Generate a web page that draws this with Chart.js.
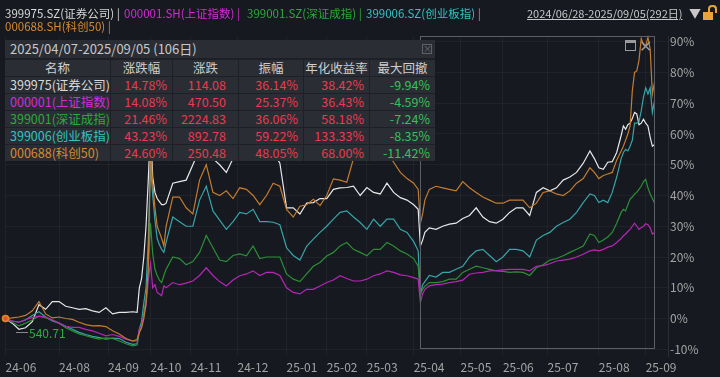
<!DOCTYPE html>
<html>
<head>
<meta charset="utf-8">
<script src="https://cdn.jsdelivr.net/npm/chart.js@4.4.1/dist/chart.umd.min.js"></script>
<style>
body { margin: 0; background: #161920; }
#wrap { position: relative; width: 720px; height: 377px; overflow: hidden; background: #161920; font-family: "Noto Sans CJK SC", "Noto Sans", sans-serif; }
#c { position: absolute; left: 0; top: 0; }
.abs { position: absolute; white-space: nowrap; }
.lg { font-size: 11.5px; line-height: 14px; }
</style>
</head>
<body>
<div id="wrap">
    <canvas id="c" width="720" height="377"></canvas>

    <!-- legend header -->
    <div class="abs lg" style="left:5px;top:6px;color:#d9d9d9">399975.SZ(证券公司) |</div>
    <div class="abs lg" style="left:124px;top:6px;color:#d62bd6">000001.SH(上证指数) |</div>
    <div class="abs lg" style="left:247px;top:6px;color:#2fa83b">399001.SZ(深证成指) |</div>
    <div class="abs lg" style="left:366px;top:6px;color:#33c3c3">399006.SZ(创业板指) |</div>
    <div class="abs lg" style="left:5px;top:19px;color:#d88a2e">000688.SH(科创50) |</div>
    <div class="abs" style="left:527px;top:5px;font-size:11px;line-height:16px;color:#c8c8c8;text-decoration:underline">2024/06/28-2025/09/05(292日)</div>
    <div class="abs" style="left:689px;top:5px;font-size:12px;line-height:16px;color:#c8c8c8">▼</div>
    <div class="abs" style="left:708px;top:5px;width:5px;height:6px;border:2px solid #e8a33a;border-bottom:none;border-radius:4px 4px 0 0"></div>
    <div class="abs" style="left:703px;top:12px;width:10px;height:8px;background:#e8a33a"></div>

    <!-- selection box -->
    <div class="abs" style="left:420px;top:36px;width:235px;height:313px;border:1px solid #5c5f66;box-sizing:border-box"></div>
    <div class="abs" style="left:625px;top:40px;width:11px;height:11px;border:1px solid #9a9a9a;box-sizing:border-box;border-top-width:3px"></div>
    <div class="abs" style="left:639px;top:36px;font-size:16px;line-height:18px;color:#9a9a9a">✕</div>

    <!-- min marker -->
    <div class="abs" style="left:16px;top:332px;width:12px;height:1px;background:#8a8a8a"></div>
    <div class="abs" style="left:29px;top:325px;font-size:12px;line-height:16px;color:#2fae3f">540.71</div>

    <div id="tbl" class="abs" style="left:5px;top:40px;width:430px;height:121px;background:#1d2026"></div>
</div>

<script>
// trading-day index (0 = 2024/06/28, 291 = 2025/09/05)
const dayIdx = [
    0, 3, 6, 9, 12, 15, 18, 21, 24, 27, 30, 33, 36, 39, 42, 45, 48, 51, 54, 57, 59,
    60, 61, 62, 63, 64, 65, 66, 67, 68, 69, 70, 71, 72,
    75, 78, 81, 84, 87, 90, 93, 96, 99, 102, 105, 108, 111, 114, 117, 120, 123, 126, 129, 132, 135, 138, 141, 144, 147, 150, 153, 156, 159, 162, 165, 168, 171, 174, 177, 180, 183,
    185, 186, 187, 188,
    190, 193, 196, 199, 202, 205, 208, 211, 214, 217, 220, 223, 226, 229, 232, 235, 238, 241, 244, 247, 250, 253, 256, 259,
    262, 264, 266, 268, 270, 272, 274,
    276, 277, 278, 279, 280, 281, 282, 283, 284, 285, 286, 287, 288, 289, 290, 291
];

// cumulative change in %
const sec399975 = [
    0, -1.5, -3.5, -3, -1, 4.5, 3, 5.5, 5.5, 4, 3.5, 3, 3.2, 2.5, 2, 3.5, 1.5, 2, 2, 2.2, 2,
    10, 13, 20, 30, 45, 62, 46, 41, 39, 38, 37, 37, 37.5,
    44, 44.5, 45, 50, 55, 54, 52, 50, 47.5, 52, 55, 56, 54, 56, 52, 54, 50.5, 36, 36, 34, 37.5, 37.7, 39, 39, 42, 42.5, 42.6, 43, 40, 42.6, 41, 40.5, 44, 41, 39.3, 38.5, 37,
    35.5, 23.6, 25.5, 28,
    29.5, 29, 30, 30.7, 31, 32.5, 33.5, 36, 33, 31.5, 31, 32.3, 34.5, 36, 36, 33.5, 41, 42.5, 41.5, 42.5, 45, 46, 47.5, 50.5,
    54.5, 52, 49, 48.5, 50.8, 51, 54,
    59.5, 62.6, 61.5, 63, 63.5, 65, 67, 66.5, 63, 63.5, 64.8, 63.5, 62.6, 59, 56, 56.6
];
const sh000001 = [
    0, -0.8, -1.2, -0.3, 0.3, 0.8, 0.5, -0.5, -1.5, -2.5, -2.9, -2.9, -3.5, -4, -4.8, -5.6, -5.2, -5.8, -6.7, -7.3, -7.3,
    -3.5, -2.4, 1.1, 4.1, 12.4, 18, 10, 11, 8.5, 8, 7.4, 10.6, 10,
    11.7, 11, 11.5, 12.2, 14, 16.5, 14, 12, 10.6, 12.5, 13.9, 14.5, 15.5, 14, 15, 15, 14, 10, 8.5, 8, 9.5, 9.5, 10.6, 11.7, 12.5, 13.9, 13, 12.2, 12.2, 12.8, 13.9, 14.5, 15.5, 15, 14.2, 13.9, 13.3,
    12.8, 5.2, 8, 9.5,
    10.6, 11, 11.2, 11.7, 12, 12.5, 14.4, 14.8, 15, 15.5, 15.6, 15.8, 16, 16, 16, 15.5, 17, 17.2, 17.8, 18.7, 19, 19.3, 20, 20.9,
    22, 22.3, 22, 22.5, 23.2, 23.6, 24.7,
    26, 26.9, 27.5, 28.3, 29, 30, 31, 30, 29, 29.5, 30, 30.8, 30.5, 29.5, 27.5, 28
];
const sz399001 = [
    0, -1.2, -2.4, -1.5, -0.5, 0.8, 0.3, -0.5, -1.5, -3, -4, -5, -5.6, -6.2, -6.7, -6.3, -6.5, -7.3, -8.2, -8.9, -8.6,
    -4.5, -2.5, 2, 6, 16, 31, 21, 16, 14, 12.5, 11.7, 14, 16,
    20, 19.5, 17.5, 18.5, 21.5, 27, 23, 19, 18.5, 20.5, 21, 20.4, 23.6, 19.5, 20, 20, 20, 14.5, 12.8, 12, 14.5, 17, 18.2, 20.3, 21.5, 23.6, 24.7, 22.5, 21.5, 20.4, 22.5, 22.5, 24.7, 23.6, 22, 21, 19.5,
    17, 8, 9.5, 10.5,
    11.7, 11.7, 12, 12.8, 12.8, 15, 16, 17, 16.5, 16, 15.5, 15.3, 15, 15.2, 15, 14, 16.5, 17.5, 19, 19.5, 20.4, 21.5, 22.5, 23.6,
    27.5, 27, 24.7, 25.5, 26.5, 28, 31,
    34.5, 35.5, 35, 37, 38.8, 39.5, 40.5, 41, 42, 43, 44.5, 45.2, 42.5, 40.5, 39, 37.5
];
const cyb399006 = [
    0, -0.8, -1.2, -0.5, 1, 2.2, 0.5, -0.8, -1.5, -2.5, -3.5, -4.5, -5.2, -5.8, -6.2, -6.7, -6.4, -6.5, -7.7, -8.4, -8.2,
    -3.5, -1, 5, 10, 25, 50, 40, 32, 26, 24, 22.5, 21.5, 24.8,
    33, 31.5, 30, 30, 38.5, 43, 35, 32, 29, 31.5, 34.5, 34, 35.5, 31.5, 31.5, 31.3, 30.5, 23, 20.5, 19, 23.5, 25.8, 28, 30, 32.3, 34.5, 35, 33, 31.2, 29, 32.3, 30, 32.3, 32.3, 29, 28, 25,
    22, 7.5, 11, 12,
    14, 13.5, 15, 15, 16, 17, 20, 22, 22.5, 20.5, 18.5, 20, 22.5, 22.5, 22, 20, 25.5, 27, 28, 30, 31.2, 32.3, 34.5, 37.7,
    40.5, 40, 37.7, 38.5, 37.7, 41, 46,
    52, 54, 55, 54.5, 56, 58, 63.5, 63.5, 64, 67.5, 72, 75, 73, 75, 67, 71
];
const kc000688 = [
    0, 0.2, 0.5, 1, 2.5, 5.5, 1.5, 0.2, 0.5, 0, -0.3, -1.2, -2, -2.4, -2.3, -2.6, -4, -5, -6.5, -7.3, -6.8,
    -4.5, -3, 0, 5, 16, 55, 44, 36, 30, 28, 26, 23.6, 30,
    39.5, 39.5, 36, 34, 45, 50, 41, 40, 41.5, 39, 42.5, 42, 40, 37, 40, 44, 43, 35.5, 33, 36.5, 37, 38.8, 36.7, 40, 45.4, 45, 44.3, 52, 55, 56, 55, 57, 54, 50.8, 47.5, 45.5, 44,
    42, 31, 34, 38.5,
    42, 43, 42.5, 42, 41.5, 44.5, 42.5, 41, 39.5, 38.5, 37.5, 37.5, 38.5, 38.5, 38.5, 36, 37.5, 41, 41.5, 40.5, 40, 41.5, 44, 45.5,
    49, 47.5, 45.5, 46.5, 47, 47.5, 51.5,
    54.5, 56, 58, 60, 62.6, 74, 80, 80.5, 84, 91, 89, 88.6, 91.4, 87.6, 73, 77
];

const monthIdx = [0, 24, 46, 65, 83, 104, 126, 144, 162, 183, 204, 223, 243, 266, 287];
const monthLabels = ['24-06', '24-08', '24-09', '24-10', '24-11', '24-12', '25-01', '25-02', '25-03', '25-04', '25-05', '25-06', '25-07', '25-08', '25-09'];
const yTicks = [-10, 0, 10, 20, 30, 40, 50, 60, 70, 80, 90];

// range table 2025/04/07-2025/09/05
const tblNames = ['399975(证券公司)', '000001(上证指数)', '399001(深证成指)', '399006(创业板指)', '000688(科创50)'];
const tblNameColors = ['#d9d9d9', '#d62bd6', '#2fa83b', '#33c3c3', '#d88a2e'];
const tblChgPct = ['14.78%', '14.08%', '21.46%', '43.23%', '24.60%'];
const tblChg = ['114.08', '470.50', '2224.83', '892.78', '250.48'];
const tblAmp = ['36.14%', '25.37%', '36.06%', '59.22%', '48.05%'];
const tblAnnual = ['38.42%', '36.43%', '58.18%', '133.33%', '68.00%'];
const tblMaxDD = ['-9.94%', '-4.59%', '-7.24%', '-8.35%', '-11.42%'];
const tblHeads = ['名称', '涨跌幅', '涨跌', '振幅', '年化收益率', '最大回撤'];

function pts(arr) {
    return dayIdx.map((d, i) => ({ x: d, y: arr[i] }));
}

const fontFam = '"Noto Sans CJK SC", "Noto Sans", sans-serif';

const ctx = document.getElementById('c').getContext('2d');
const myChart = new Chart(ctx, {
    type: 'line',
    data: {
        datasets: [
            {
                label: '000688.SH(科创50)',
                data: pts(kc000688),
                borderColor: '#c47c2e',
                borderWidth: 1.2,
                pointRadius: c => c.dataIndex === 0 ? 3 : 0,
                pointBackgroundColor: '#e2552b',
                pointBorderColor: '#e08a2e',
                pointBorderWidth: 1.5,
                clip: false
            },
            { label: '000001.SH(上证指数)', data: pts(sh000001), borderColor: '#b726b7', borderWidth: 1.2, pointRadius: 0 },
            { label: '399001.SZ(深证成指)', data: pts(sz399001), borderColor: '#2b8f36', borderWidth: 1.2, pointRadius: 0 },
            { label: '399006.SZ(创业板指)', data: pts(cyb399006), borderColor: '#36a5a8', borderWidth: 1.2, pointRadius: 0 },
            { label: '399975.SZ(证券公司)', data: pts(sec399975), borderColor: '#e8e8e8', borderWidth: 1.2, pointRadius: 0 }
        ]
    },
    options: {
        responsive: false,
        animation: false,
        layout: { padding: { left: 5, top: 36, right: 0, bottom: 0 } },
        plugins: {
            legend: { display: false },
            tooltip: { enabled: false }
        },
        scales: {
            x: {
                type: 'linear',
                min: 0,
                max: 297,
                afterBuildTicks: axis => { axis.ticks = monthIdx.map(v => ({ value: v })); },
                afterFit: axis => { axis.height = 21; },
                ticks: {
                    callback: v => monthLabels[monthIdx.indexOf(v)],
                    align: 'start',
                    maxRotation: 0,
                    autoSkip: false,
                    padding: 4,
                    color: '#a4a4a4',
                    font: { family: fontFam, size: 12 }
                },
                grid: { color: 'rgba(255,255,255,0.04)', drawTicks: false },
                border: { display: false }
            },
            y: {
                position: 'right',
                min: -12.18,
                max: 91.85,
                afterBuildTicks: axis => { axis.ticks = yTicks.map(v => ({ value: v })); },
                afterFit: axis => { axis.width = 52; },
                ticks: {
                    callback: v => v + '%',
                    padding: 2,
                    color: '#a4a4a4',
                    font: { family: fontFam, size: 12 }
                },
                grid: { color: 'rgba(255,255,255,0.04)', drawTicks: false },
                border: { display: true, color: '#2a2d34' }
            }
        }
    }
});

// build the overlay table
const tbl = document.getElementById('tbl');
const colEdges = [0, 105, 167, 233, 298, 364, 430];
function cell(left, top, w, h, bg) {
    const d = document.createElement('div');
    d.className = 'abs';
    d.style.cssText = 'left:' + left + 'px;top:' + top + 'px;width:' + w + 'px;height:' + h + 'px;background:' + bg + ';font-size:12.5px;line-height:' + h + 'px;box-sizing:border-box;overflow:hidden';
    tbl.appendChild(d);
    return d;
}
const title = cell(0, 0, 430, 18, '#2a2d34');
title.style.fontSize = '13px';
title.style.color = '#c8c8c8';
title.style.paddingLeft = '5px';
title.textContent = '2025/04/07-2025/09/05 (106日)';
const closeBox = document.createElement('div');
closeBox.className = 'abs';
closeBox.style.cssText = 'left:417px;top:4px;width:10px;height:10px;border:1px solid #5e6168;box-sizing:border-box;color:#6e7178;font-size:9px;line-height:8px;text-align:center';
closeBox.textContent = '×';
tbl.appendChild(closeBox);

const rowTop = r => 18.5 + 17 * r;
for (let c = 0; c < 6; c++) {
    const x0 = colEdges[c] + (c > 0 ? 1 : 0);
    const w = colEdges[c + 1] - x0;
    const h = cell(x0, rowTop(0) + 1, w, 16, '#2a2d34');
    h.style.textAlign = 'center';
    h.style.color = '#cfcfcf';
    h.textContent = tblHeads[c];
}
const cols = [tblChgPct, tblChg, tblAmp, tblAnnual, tblMaxDD];
for (let r = 0; r < 5; r++) {
    const top = rowTop(r + 1) + 1;
    const n = cell(0, top, colEdges[1], 16, '#2a2d34');
    n.style.color = tblNameColors[r];
    n.style.paddingLeft = '5px';
    n.textContent = tblNames[r];
    for (let c = 0; c < 5; c++) {
        const x0 = colEdges[c + 1] + 1;
        const w = colEdges[c + 2] - x0;
        const d = cell(x0, top, w, 16, '#2a2d34');
        d.style.textAlign = 'right';
        d.style.paddingRight = (c === 1 ? 12 : 5) + 'px';
        d.style.color = c === 4 ? '#35c15a' : '#ec3a50';
        d.textContent = cols[c][r];
    }
}
</script>
</body>
</html>
